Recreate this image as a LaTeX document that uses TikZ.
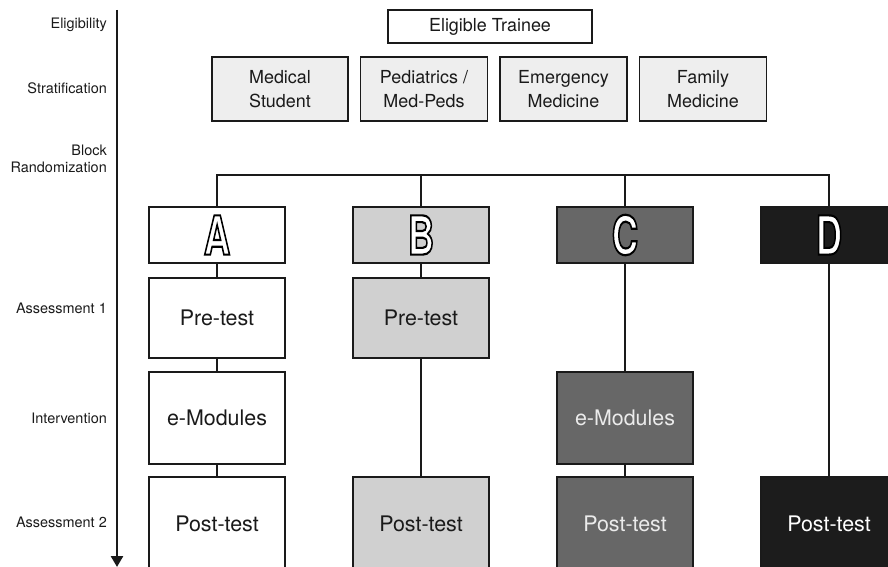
\documentclass[tikz,border=0pt]{standalone}
\usepackage{fontspec}
\setmainfont{TeX Gyre Heros}
\usepackage{graphicx}
\usepackage{tikz}
\usetikzlibrary{arrows.meta}

\definecolor{ink}{HTML}{1A1A1A}
\definecolor{strataGray}{HTML}{EEEEEE}
\definecolor{armBfill}{HTML}{D0D0D0}
\definecolor{armCfill}{HTML}{676767}
\definecolor{armDfill}{HTML}{1C1C1C}
% outlined arm letter: white fill, black stroke (text render mode 2)
\newcommand{\armletter}[1]{%
  {\fontsize{54}{54}\selectfont\bfseries\color{white}%
   \special{pdf:literal direct 0 G 2.2 w 2 Tr}%
   \scalebox{0.68}[1]{#1}%
   \special{pdf:literal direct 0 Tr}}}

\begin{document}
\begin{tikzpicture}[x=1bp, y=-1bp,
  font=\fontsize{18}{24}\selectfont, text=ink,
  stage/.style  ={font=\fontsize{14.5}{17}\selectfont, anchor=east,
                  align=right, inner xsep=0pt},
  entry/.style  ={draw=ink, line width=1.4bp, fill=white,
                  minimum width=204bp, minimum height=33bp},
  stratum/.style={draw=ink, line width=1.4bp, fill=strataGray,
                  align=center, minimum height=64bp},
  arm/.style    ={draw=ink, line width=1.6bp, minimum width=136bp,
                  minimum height=56bp},
  stepbox/.style={draw=ink, line width=1.6bp, minimum width=136bp,
                  font=\fontsize{21.5}{24}\selectfont},
  link/.style   ={line width=1.2bp, draw=ink},
  timeline/.style={line width=2.6bp, draw=ink,
                  -{Triangle[width=12bp,length=11bp]}},
]
\useasboundingbox (0,0) rectangle (888,567);
\clip (0,0) rectangle (888,567);

% === Stages (left axis) ===
\node[stage] (lElig)  at (107,25)  {Eligibility};
\node[stage] (lStrat) at (107,88)  {Stratification};
\node[stage] (lRand)  at (107,159) {Block\\Randomization};
\node[stage] (lAss1)  at (107,308) {Assessment 1};
\node[stage] (lInt)   at (107,418) {Intervention};
\node[stage] (lAss2)  at (107,522) {Assessment 2};

\coordinate (tlTop) at (117,10);
\coordinate (tlEnd) at (117,567);
\draw[timeline] (tlTop) -- (tlEnd);

% === Eligibility and strata ===
\node[entry] (trainee) at (490,26.5) {Eligible Trainee};

\node[stratum, minimum width=136bp] (medStud) at (280,89)
  {Medical\\Student};
\node[stratum, minimum width=127bp] (peds) at (424,89)
  {Pediatrics /\\Med-Peds};
\node[stratum, minimum width=127bp] (emerg) at (563.5,89)
  {Emergency\\Medicine};
\node[stratum, minimum width=127bp] (family) at (703,89)
  {Family\\Medicine};

% === Arms ===
\node[arm, fill=white]    (armA) at (217,235) {\armletter{A}};
\node[arm, fill=armBfill] (armB) at (421,235) {\armletter{B}};
\node[arm, fill=armCfill] (armC) at (625,235) {\armletter{C}};
\node[arm, fill=armDfill] (armD) at (829,235) {\armletter{D}};

% === Assessment 1 ===
\node[stepbox, fill=white, minimum height=80bp]    (preA) at (217,318) {Pre-test};
\node[stepbox, fill=armBfill, minimum height=80bp] (preB) at (421,318) {Pre-test};

% === Intervention ===
\node[stepbox, fill=white, minimum height=92bp] (modA) at (217,418) {e-Modules};
\node[stepbox, fill=armCfill, text=white!92!black, minimum height=92bp]
  (modC) at (625,418) {e-Modules};

% === Assessment 2 ===
\node[stepbox, fill=white, minimum height=94bp]    (postA) at (217,524) {Post-test};
\node[stepbox, fill=armBfill, minimum height=94bp] (postB) at (421,524) {Post-test};
\node[stepbox, fill=armCfill, text=white!92!black, minimum height=94bp]
  (postC) at (625,524) {Post-test};
\node[stepbox, fill=armDfill, text=white, minimum height=94bp]
  (postD) at (829,524) {Post-test};

% === Randomization split ===
\coordinate (split) at (520,175);
\draw[link] (armA.north) -- (armA.north |- split)
  -- (armD.north |- split) -- (armD.north);
\draw[link] (armB.north) -- (armB.north |- split);
\draw[link] (armC.north) -- (armC.north |- split);

% === Arm flows ===
\draw[link] (armA) -- (preA);
\draw[link] (preA) -- (modA);
\draw[link] (modA) -- (postA);
\draw[link] (armB) -- (preB);
\draw[link] (preB) -- (postB);
\draw[link] (armC) -- (modC);
\draw[link] (modC) -- (postC);
\draw[link] (armD) -- (postD);

\end{tikzpicture}
\end{document}
